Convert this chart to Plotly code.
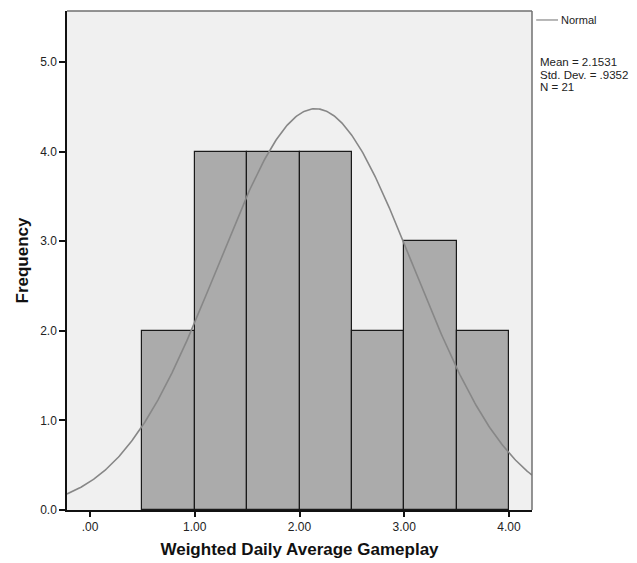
import numpy as np
import plotly.graph_objects as go

# Data
bin_left = [0.5, 1.0, 1.5, 2.0, 2.5, 3.0, 3.5]
bin_width = 0.5
counts = [2, 4, 4, 4, 2, 3, 2]
mean = 2.1531
std_dev = 0.9352
n = 21
x_tick_vals = [0, 1, 2, 3, 4]
x_tick_text = [".00", "1.00", "2.00", "3.00", "4.00"]
y_tick_vals = [0, 1, 2, 3, 4, 5]
y_tick_text = ["0.0", "1.0", "2.0", "3.0", "4.0", "5.0"]
stats_lines = ["Mean = 2.1531", "Std. Dev. = .9352", "N = 21"]

x_range = [-0.22, 4.22]
y_range = [0, 5.57]

centers = [b + bin_width / 2 for b in bin_left]

xs = np.linspace(x_range[0], x_range[1], 400)
ys = n * bin_width * np.exp(-0.5 * ((xs - mean) / std_dev) ** 2) / (std_dev * np.sqrt(2 * np.pi))

fig = go.Figure()
fig.add_trace(go.Bar(
    x=centers, y=counts, width=bin_width,
    marker=dict(color="#ABABAB", line=dict(color="#1a1a1a", width=1.2)),
    showlegend=False, hoverinfo="skip",
))
fig.add_trace(go.Scatter(
    x=xs, y=ys, mode="lines",
    line=dict(color="#878787", width=1.6),
    showlegend=False, hoverinfo="skip",
))

font_family = "Liberation Sans, Arial, sans-serif"

annotations = [
    dict(text="Normal", xref="paper", yref="paper", x=1.058, y=0.982,
         xanchor="left", yanchor="middle", showarrow=False,
         font=dict(size=11, color="#222222")),
]
for i, line in enumerate(stats_lines):
    annotations.append(dict(
        text=line, xref="paper", yref="paper", x=1.016, y=0.898 - i * 0.0255,
        xanchor="left", yanchor="middle", align="left", showarrow=False,
        borderpad=0,
        font=dict(size=11.5, color="#222222")))

fig.update_layout(
    width=629, height=555,
    margin=dict(l=59, r=105, t=3, b=53),
    paper_bgcolor="white",
    plot_bgcolor="#F0F0F0",
    bargap=0,
    font=dict(family=font_family, color="#222222", size=12),
    xaxis=dict(
        range=x_range, tickvals=x_tick_vals, ticktext=x_tick_text,
        showgrid=False, zeroline=False,
        showline=True, linecolor="#111111", linewidth=1.5,
        ticks="outside", ticklen=5, tickcolor="#111111", tickwidth=1.5,
        tickfont=dict(size=12, color="#222222"),
        title=dict(text="<b>Weighted Daily Average Gameplay</b>",
                   font=dict(size=17, color="#111111"), standoff=10),
    ),
    yaxis=dict(
        range=y_range, tickvals=y_tick_vals, ticktext=y_tick_text,
        showgrid=False, zeroline=False,
        showline=True, linecolor="#111111", linewidth=1.5,
        ticks="outside", ticklen=6, tickcolor="#111111", tickwidth=1.5,
        tickfont=dict(size=12, color="#222222"),
        title=dict(text="<b>Frequency</b>",
                   font=dict(size=17, color="#111111"), standoff=7),
    ),
    shapes=[
        dict(type="line", xref="paper", yref="paper", x0=0, x1=1, y0=1, y1=1,
             line=dict(color="#707070", width=1.5)),
        dict(type="line", xref="paper", yref="paper", x0=1, x1=1, y0=0, y1=1,
             line=dict(color="#707070", width=1.5)),
        dict(type="line", xref="paper", yref="paper", x0=1.009, x1=1.056,
             y0=0.982, y1=0.982, line=dict(color="#878787", width=1.2)),
    ],
    annotations=annotations,
)

fig.write_html("out.html")
